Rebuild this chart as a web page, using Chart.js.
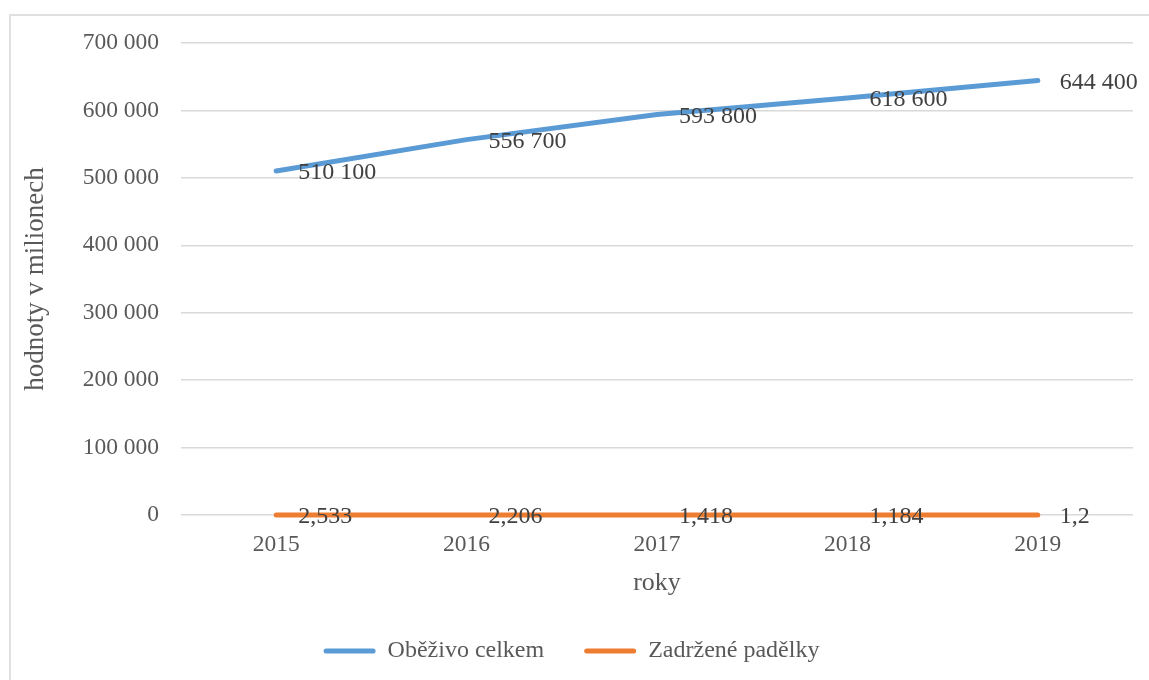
<!DOCTYPE html>
<html>
<head>
<meta charset="utf-8">
<script src="https://cdn.jsdelivr.net/npm/chart.js@4"></script>
<style>
  html, body { margin: 0; padding: 0; background: #ffffff; }
  #frame {
    position: absolute; left: 9px; top: 14px;
    width: 1200px; height: 720px;
    border: 2px solid #e0e0e0; box-sizing: border-box;
  }
  #wrap { position: absolute; left: 0; top: 0; width: 1149px; height: 680px; }
</style>
</head>
<body>
<div id="frame"></div>
<div id="wrap"><canvas id="chart" width="1149" height="680"></canvas></div>
<script>
// DATA
const years = ["2015", "2016", "2017", "2018", "2019"];
const obezivo = [510100, 556700, 593800, 618600, 644400];
const padelky = [2.533, 2.206, 1.418, 1.184, 1.2];

const FONT = "'Liberation Serif', 'Times New Roman', serif";

// number formats (Czech style)
function spaced(v) {
  return String(v).replace(/\B(?=(\d{3})+(?!\d))/g, " ");
}
function decimalComma(v) {
  return String(v).replace(".", ",");
}

// data labels to the right of each point
const pointLabels = {
  id: "pointLabels",
  afterDatasetsDraw(chart) {
    const ctx = chart.ctx;
    ctx.save();
    ctx.font = "24px " + FONT;
    ctx.fillStyle = "#404040";
    ctx.textAlign = "left";
    ctx.textBaseline = "middle";
    chart.data.datasets.forEach((ds, i) => {
      const meta = chart.getDatasetMeta(i);
      meta.data.forEach((pt, j) => {
        ctx.fillText(ds.labelFormat(ds.data[j]), pt.x + 22, pt.y + 2);
      });
    });
    ctx.restore();
  }
};

const ctx = document.getElementById("chart").getContext("2d");
new Chart(ctx, {
  type: "line",
  data: {
    labels: years,
    datasets: [
      {
        label: "Oběživo celkem",
        data: obezivo,
        borderColor: "#5b9bd5",
        backgroundColor: "#5b9bd5",
        borderWidth: 5,
        borderCapStyle: "round",
        tension: 0,
        pointRadius: 0,
        fill: false,
        clip: false,
        labelFormat: spaced,
      },
      {
        label: "Zadržené padělky",
        data: padelky,
        borderColor: "#ed7d31",
        backgroundColor: "#ed7d31",
        borderWidth: 5,
        borderCapStyle: "round",
        tension: 0,
        pointRadius: 0,
        fill: false,
        clip: false,
        labelFormat: decimalComma,
      },
    ],
  },
  options: {
    responsive: false,
    animation: false,
    layout: {
      padding: { left: 10, top: 43, right: 16, bottom: 7 },
    },
    plugins: {
      legend: {
        display: true,
        position: "bottom",
        labels: {
          color: "#595959",
          font: { family: FONT, size: 24 },
          boxWidth: 52,
          boxHeight: 5,
          useBorderRadius: true,
          borderRadius: 2.5,
          padding: 40,
          generateLabels(chart) {
            const items = Chart.defaults.plugins.legend.labels.generateLabels(chart);
            items.forEach((it) => { it.lineWidth = 0; });
            return items;
          },
        },
      },
      tooltip: { enabled: false },
    },
    scales: {
      x: {
        offset: true,
        grid: { display: false },
        border: { display: false },
        ticks: {
          color: "#595959",
          font: { family: FONT, size: 23.5 },
          padding: 8,
        },
        title: {
          display: true,
          text: "roky",
          color: "#595959",
          font: { family: FONT, size: 26 },
          padding: { top: 0, bottom: 0 },
        },
        afterFit(scale) {
          scale.height = 84;
        },
      },
      y: {
        min: 0,
        max: 700000,
        grid: {
          color: "#d9d9d9",
          lineWidth: 1.5,
          drawTicks: false,
        },
        border: { display: false },
        ticks: {
          stepSize: 100000,
          color: "#595959",
          font: { family: FONT, size: 23.5 },
          padding: 22,
          callback: function(value) {
            return spaced(value);
          }
        },
        title: {
          display: true,
          text: "hodnoty v milionech",
          color: "#595959",
          font: { family: FONT, size: 27 },
          padding: { top: 10, bottom: 0 },
        },
        afterFit(scale) {
          scale.width = 171;
        },
      },
    },
  },
  plugins: [pointLabels],
});
</script>
</body>
</html>
